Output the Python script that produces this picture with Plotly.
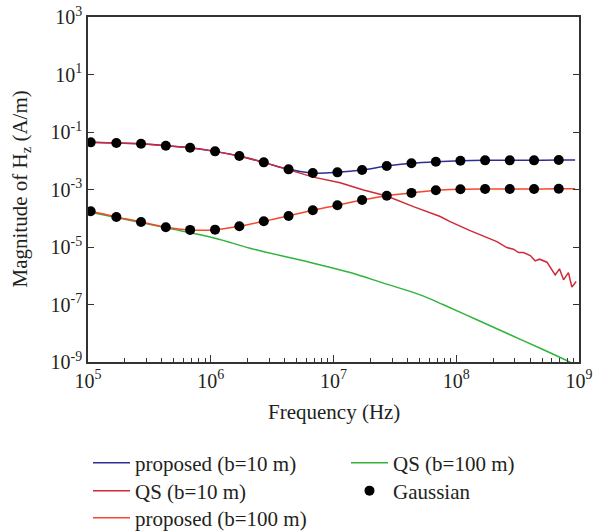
import plotly.graph_objects as go

# ---------------- data ----------------
# proposed model, b = 10 m
f_prop10 = [1.0e5, 1.052e5, 1.702e5, 2.704e5, 4.305e5, 6.79e5, 1.084e6, 1.71e6, 2.704e6, 4.305e6,
            6.78e6, 1.076e7, 1.71e7, 2.716e7, 4.315e7, 6.82e7, 1.081e8, 1.718e8, 2.729e8,
            4.305e8, 6.84e8, 9.3e8]
h_prop10 = [0.0442, 0.0436, 0.0412, 0.0389, 0.0332, 0.0282, 0.0212, 0.01455, 0.00879, 0.00502,
            0.00374, 0.00395, 0.00475, 0.00655, 0.00813, 0.00923, 0.0100, 0.01033, 0.01033,
            0.01033, 0.01057, 0.01057]

# quasi-static, b = 10 m
f_qs10 = [1.0e5, 1.702e5, 2.704e5, 4.305e5, 6.79e5, 1.084e6, 1.71e6, 2.704e6, 4.305e6, 6.86e6,
          1.132e7, 1.754e7, 2.716e7, 4.477e7, 7.40e7, 8.91e7, 1.297e8, 1.888e8, 2.143e8, 2.582e8,
          2.924e8, 3.214e8, 3.532e8, 4.009e8, 4.395e8, 4.764e8, 5.483e8, 6.397e8, 6.934e8,
          7.482e8, 8.204e8, 8.750e8, 9.484e8]
h_qs10 = [0.0436, 0.0412, 0.0389, 0.0332, 0.0282, 0.0212, 0.01455, 0.00879, 0.00479, 0.00269,
          0.00172, 0.00096, 0.000594, 0.000253, 0.000115, 7.62e-5, 3.71e-5, 1.87e-5, 1.54e-5,
          9.53e-6, 8.40e-6, 6.40e-6, 6.40e-6, 5.02e-6, 3.29e-6, 3.77e-6, 2.96e-6, 1.07e-6,
          1.74e-6, 7.21e-7, 1.29e-6, 4.02e-7, 6.30e-7]

# proposed model, b = 100 m
f_prop100 = f_prop10
h_prop100 = [1.80e-4, 1.75e-4, 1.11e-4, 7.45e-5, 4.86e-5, 3.93e-5, 4.02e-5, 5.27e-5, 7.87e-5,
             1.20e-4, 1.90e-4, 2.83e-4, 4.32e-4, 6.10e-4, 7.62e-4, 9.38e-4, 1.016e-3, 1.040e-3,
             1.040e-3, 1.040e-3, 1.067e-3, 1.067e-3]

# quasi-static, b = 100 m
f_qs100 = [1.0e5, 4.246e5, 1.084e6, 2.089e6, 6.053e6, 1.365e7, 2.553e7, 5.082e7, 7.870e7,
           1.472e8, 2.748e8, 5.140e8, 8.204e8, 9.0e8]
h_qs100 = [1.69e-4, 4.72e-5, 2.02e-5, 9.08e-6, 3.11e-6, 1.29e-6, 5.53e-7, 2.17e-7, 9.77e-8,
           2.94e-8, 8.87e-9, 2.67e-9, 1.05e-9, 8.4e-10]

# Gaussian reference points
f_gauss = [1.052e5, 1.702e5, 2.704e5, 4.305e5, 6.79e5, 1.084e6, 1.71e6, 2.704e6, 4.305e6, 6.78e6,
           1.076e7, 1.71e7, 2.716e7, 4.315e7, 6.82e7, 1.081e8, 1.718e8, 2.729e8, 4.305e8, 6.84e8]
h_gauss10 = [0.0436, 0.0412, 0.0389, 0.0332, 0.0282, 0.0212, 0.01455, 0.00879, 0.00502, 0.00374,
             0.00395, 0.00475, 0.00655, 0.00813, 0.00923, 0.0100, 0.01033, 0.01033, 0.01033, 0.01057]
h_gauss100 = [1.75e-4, 1.11e-4, 7.45e-5, 4.86e-5, 3.93e-5, 4.02e-5, 5.27e-5, 7.87e-5, 1.20e-4,
              1.90e-4, 2.83e-4, 4.32e-4, 6.10e-4, 7.62e-4, 9.38e-4, 1.016e-3, 1.040e-3, 1.040e-3,
              1.040e-3, 1.067e-3]

y_tickvals = [1e-9, 1e-7, 1e-5, 1e-3, 1e-1, 1e1, 1e3]
y_ticktext = ["10<sup>-9</sup>", "10<sup>-7</sup>", "10<sup>-5</sup>", "10<sup>-3</sup>",
              "10<sup>-1</sup>", "10<sup>1</sup>", "10<sup>3</sup>"]
x_tickvals = [1e5, 1e6, 1e7, 1e8, 1e9]
x_ticktext = ["10<sup>5</sup>", "10<sup>6</sup>", "10<sup>7</sup>", "10<sup>8</sup>", "10<sup>9</sup>"]

names = ["proposed (b=10 m)", "QS (b=10 m)", "proposed (b=100 m)", "QS (b=100 m)", "Gaussian"]
x_title = "Frequency (Hz)"
y_title = "Magnitude of H<sub>z</sub> (A/m)"

# ---------------- styling ----------------
FONT = "Liberation Serif"
TXT = "#231f20"
C_BLUE = "#2e2e96"
C_QS10 = "#cf2a37"
C_P100 = "#f4472c"
C_QS100 = "#30b43c"

W, H = 593, 532
ML, MR, MT, MB = 88, 14, 17, 170
PW, PH = W - ML - MR, H - MT - MB

fig = go.Figure()
fig.add_trace(go.Scatter(x=f_prop10, y=h_prop10, mode="lines", name=names[0],
                         line=dict(color=C_BLUE, width=1.5, shape="spline"), legend="legend"))
fig.add_trace(go.Scatter(x=f_qs10, y=h_qs10, mode="lines", name=names[1],
                         line=dict(color=C_QS10, width=1.5), legend="legend2"))
fig.add_trace(go.Scatter(x=f_qs100, y=h_qs100, mode="lines", name=names[3],
                         line=dict(color=C_QS100, width=1.5, shape="spline"), legend="legend4"))
fig.add_trace(go.Scatter(x=f_prop100, y=h_prop100, mode="lines", name=names[2],
                         line=dict(color=C_P100, width=1.5, shape="spline"), legend="legend3"))
fig.add_trace(go.Scatter(x=f_gauss + f_gauss, y=h_gauss10 + h_gauss100, mode="markers",
                         name=names[4], marker=dict(color="black", size=10), legend="legend5"))


def leg(px, py):
    return dict(x=px / W, y=1 - py / H, xref="container", yref="container",
                xanchor="left", yanchor="middle", bgcolor="rgba(0,0,0,0)",
                font=dict(family=FONT, size=21, color=TXT), itemwidth=37,
                borderwidth=0, visible=True)


col1, col2 = 88, 346
rows = [463, 491, 518]

fig.update_layout(
    width=W, height=H,
    margin=dict(l=ML, r=MR, t=MT, b=MB, autoexpand=False),
    paper_bgcolor="white", plot_bgcolor="white",
    font=dict(family=FONT, size=20, color=TXT),
    showlegend=True,
    legend=leg(col1, rows[0]),
    legend2=leg(col1, rows[1]),
    legend3=leg(col1, rows[2]),
    legend4=leg(col2, rows[0]),
    legend5=leg(col2, rows[1]),
    xaxis=dict(type="log", range=[5, 9], tickvals=x_tickvals, ticktext=x_ticktext,
               ticks="inside", ticklen=7, tickwidth=1.2, tickcolor="#333",
               showline=True, linecolor="#333", linewidth=1.5, mirror=True,
               showgrid=False, zeroline=False,
               tickfont=dict(family=FONT, size=20, color=TXT),
               minor=dict(ticks="inside", ticklen=4, tickwidth=1, tickcolor="#333",
                          dtick="D1", showgrid=False)),
    yaxis=dict(type="log", range=[-9, 3], tickvals=y_tickvals, ticktext=y_ticktext,
               ticks="inside", ticklen=6, tickwidth=1.2, tickcolor="#333",
               showline=True, linecolor="#333", linewidth=1.5, mirror="ticks",
               showgrid=False, zeroline=False,
               tickfont=dict(family=FONT, size=20, color=TXT)),
    annotations=[
        dict(text=x_title, xref="paper", yref="paper", x=0.5, y=(MT + PH - 412) / PH,
             xanchor="center", yanchor="middle", showarrow=False,
             font=dict(family=FONT, size=21, color=TXT)),
        dict(text=y_title, xref="paper", yref="paper", x=(20 - ML) / PW, y=0.5,
             xanchor="center", yanchor="middle", textangle=-90, showarrow=False,
             font=dict(family=FONT, size=21, color=TXT)),
    ],
)

fig.write_html("out.html", config={"displayModeBar": False},
               post_script="document.body.style.margin='0';document.body.style.padding='0';")
